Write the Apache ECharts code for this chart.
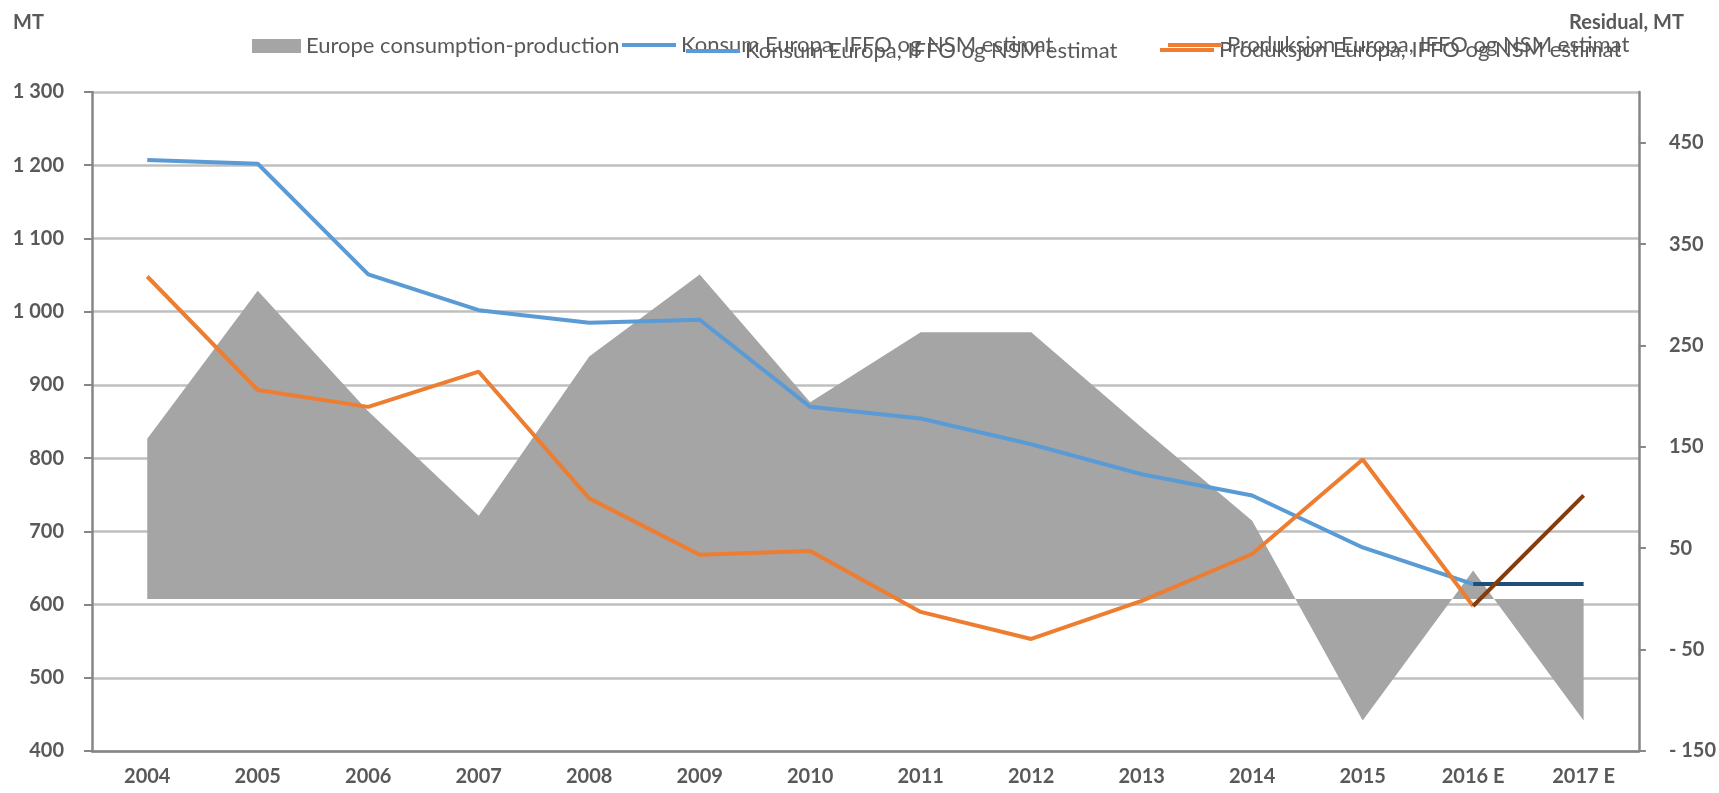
<!DOCTYPE html>
<html>
<head>
<meta charset="utf-8">
<script src="https://cdn.jsdelivr.net/npm/echarts@6/dist/echarts.min.js"></script>
<style>
  html, body { margin: 0; padding: 0; background: #fff; }
  #main { width: 1719px; height: 793px; }
</style>
</head>
<body>
<div id="main"></div>
<script>
// data
var years = ['2004', '2005', '2006', '2007', '2008', '2009', '2010', '2011', '2012', '2013', '2014', '2015', '2016 E', '2017 E'];
var residual = [158, 304, 185, 82, 239, 320, 194, 263, 263, 169, 77, -120, 28, -120];
var konsum = [1207, 1202, 1051, 1002, 985, 989, 870, 854, 819, 778, 749, 678, 628, null];
var konsumEst = [null, null, null, null, null, null, null, null, null, null, null, null, 628, 628];
var produksjon = [1048, 893, 870, 918, 745, 668, 673, 590, 553, 605, 669, 798, 598, null];
var produksjonEst = [null, null, null, null, null, null, null, null, null, null, null, null, 598, 749];
var rightTicks = [-150, -50, 50, 150, 250, 350, 450];

var nAreal = 'Europe consumption-production';
var nKonsum = 'Konsum Europa, IFFO og NSM estimat';
var nProd = 'Produksjon Europa, IFFO og NSM estimat';

var txt = '#595959';
var font = 'Lato, "Open Sans", sans-serif';

function legendAt(name, left, top, w, h) {
    return {
        data: [name],
        left: left,
        top: top,
        padding: 0,
        icon: 'rect',
        itemWidth: w,
        itemHeight: h,
        selectedMode: false,
        textStyle: { color: txt, fontSize: 22, fontFamily: font }
    };
}

var myChart = echarts.init(document.getElementById('main'));
var option = {
    animation: false,
    title: [
        { text: 'MT', left: 8, top: 8, textStyle: { color: txt, fontSize: 20, fontWeight: 'bold', fontFamily: font } },
        { text: 'Residual, MT', right: 30, top: 8, textStyle: { color: txt, fontSize: 20, fontWeight: 'bold', fontFamily: font } }
    ],
    legend: [
        legendAt(nAreal, 252, 35, 49, 14),
        legendAt(nKonsum, 622, 34, 54, 4),
        legendAt(nKonsum, 686, 40, 54, 4),
        legendAt(nProd, 1160, 39, 54, 4),
        legendAt(nProd, 1168, 34, 54, 4)
    ],
    grid: { left: 92, right: 76, top: 92, bottom: 42 },
    xAxis: {
        type: 'category',
        data: years,
        boundaryGap: true,
        axisLine: { onZero: false, lineStyle: { color: '#868686', width: 2.5 } },
        axisTick: { length: 7, lineStyle: { color: '#868686', width: 2 } },
        axisLabel: { color: txt, fontSize: 20, fontWeight: 'bold', fontFamily: font, margin: 16 }
    },
    yAxis: [{
        type: 'value',
        min: 400,
        max: 1300,
        interval: 100,
        axisLine: { show: true, lineStyle: { color: '#868686', width: 2.5 } },
        axisTick: { show: true, length: 8, lineStyle: { color: '#868686', width: 2 } },
        splitLine: { lineStyle: { color: '#bfbfbf', width: 2.5 } },
        axisLabel: {
            color: txt, fontSize: 20, fontWeight: 'bold', fontFamily: font, margin: 28,
            formatter: function (v) { return String(v).replace(/\B(?=(\d{3})+(?!\d))/g, ' '); }
        }
    }, {
        type: 'value',
        position: 'right',
        min: -150,
        max: 500,
        axisLine: { show: true, onZero: false, lineStyle: { color: '#868686', width: 2.5 } },
        axisTick: { show: true, length: 7, customValues: rightTicks, lineStyle: { color: '#868686', width: 2 } },
        splitLine: { show: false },
        axisLabel: {
            color: txt, fontSize: 20, fontWeight: 'bold', fontFamily: font, margin: 30,
            customValues: rightTicks,
            formatter: function (v) { return v < 0 ? '- ' + Math.abs(v) : String(v); }
        }
    }],
    series: [{
        name: nAreal,
        type: 'line',
        yAxisIndex: 1,
        data: residual,
        symbol: 'none',
        itemStyle: { color: '#a5a5a5' },
        lineStyle: { width: 0 },
        areaStyle: { color: '#a5a5a5', opacity: 1 },
        z: 1
    }, {
        name: nKonsum,
        type: 'line',
        data: konsum,
        symbol: 'none',
        itemStyle: { color: '#5b9bd5' },
        lineStyle: { color: '#5b9bd5', width: 4 },
        z: 3
    }, {
        name: nKonsum,
        type: 'line',
        data: konsumEst,
        symbol: 'none',
        itemStyle: { color: '#1f4e79' },
        lineStyle: { color: '#1f4e79', width: 4 },
        z: 3
    }, {
        name: nProd,
        type: 'line',
        data: produksjon,
        symbol: 'none',
        itemStyle: { color: '#ed7d31' },
        lineStyle: { color: '#ed7d31', width: 4 },
        z: 3
    }, {
        name: nProd,
        type: 'line',
        data: produksjonEst,
        symbol: 'none',
        itemStyle: { color: '#843c0c' },
        lineStyle: { color: '#843c0c', width: 4 },
        z: 3
    }]
};
myChart.setOption(option);
</script>
</body>
</html>
